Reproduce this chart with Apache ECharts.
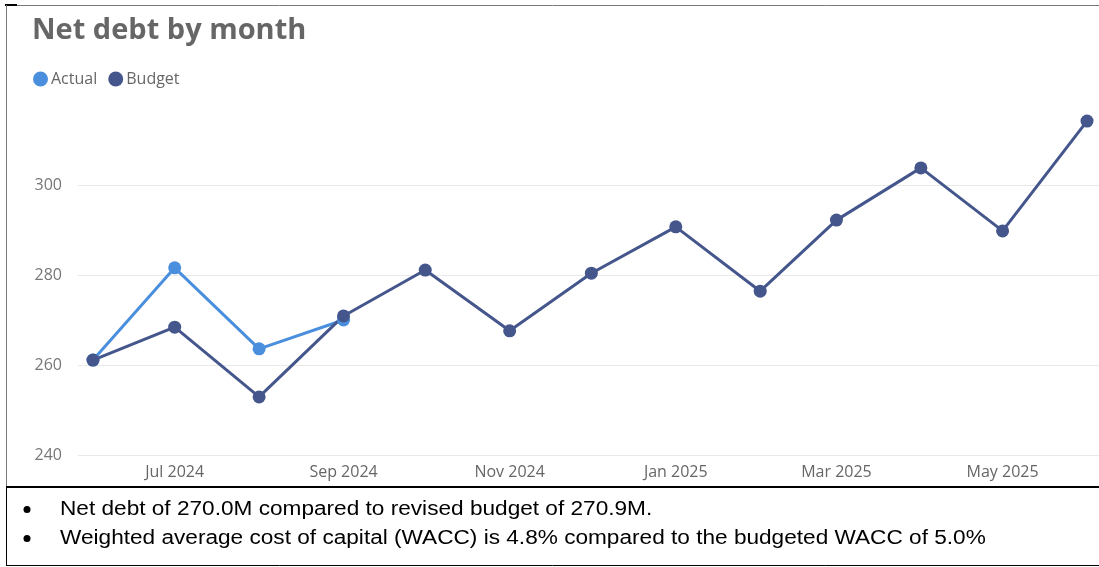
<!DOCTYPE html>
<html>
<head>
<meta charset="utf-8">
<script src="https://cdn.jsdelivr.net/npm/echarts@6/dist/echarts.min.js"></script>
<style>
  html, body { margin: 0; padding: 0; background: #ffffff; }
  #chart { width: 1099px; height: 567px; }
</style>
</head>
<body>
<div id="chart"></div>
<script>
// Month starts (year, month index) for each data point
const months = [
  [2024, 5], [2024, 6], [2024, 7], [2024, 8], [2024, 9], [2024, 10], [2024, 11],
  [2025, 0], [2025, 1], [2025, 2], [2025, 3], [2025, 4], [2025, 5]
];
// Net debt, millions
const actualValues = [261.1, 281.6, 263.6, 270.0];
const budgetValues = [261.1, 268.4, 252.9, 270.9, 281.1, 267.6, 280.4, 290.7, 276.4, 292.2, 303.8, 289.8, 314.2];
// Months that get an x-axis label
const tickMonths = [[2024, 6], [2024, 8], [2024, 10], [2025, 0], [2025, 2], [2025, 4]];
const monthNames = ['Jan', 'Feb', 'Mar', 'Apr', 'May', 'Jun', 'Jul', 'Aug', 'Sep', 'Oct', 'Nov', 'Dec'];
const notes = [
  'Net debt of 270.0M compared to revised budget of 270.9M.',
  'Weighted average cost of capital (WACC) is 4.8% compared to the budgeted WACC of 5.0%'
];

// Continuous date scale: x is a timestamp, so month spacing follows month length
const toTime = ym => new Date(ym[0], ym[1], 1).getTime();
const DAY = 86400000;
const xMin = toTime(months[0]) - 5.5 * DAY;
const xMax = toTime(months[months.length - 1]) + 4.4 * DAY;

const actualData = actualValues.map((v, i) => [toTime(months[i]), v]);
const budgetData = budgetValues.map((v, i) => [toTime(months[i]), v]);

const uiFont = '"Segoe UI", "Open Sans", "Noto Sans", sans-serif';
const noteFont = '"Liberation Sans", Arial, sans-serif';

const chart = echarts.init(document.getElementById('chart'), null, { renderer: 'canvas' });

const frame = [
  // top rule and small dark corner mark
  { type: 'line', shape: { x1: 6, y1: 5.5, x2: 1099, y2: 5.5 }, style: { stroke: '#7a7a7a', lineWidth: 1 } },
  { type: 'line', shape: { x1: 5, y1: 5, x2: 17, y2: 5 }, style: { stroke: '#000', lineWidth: 2 } },
  // left rule beside the chart
  { type: 'line', shape: { x1: 6.5, y1: 5, x2: 6.5, y2: 487 }, style: { stroke: '#7a7a7a', lineWidth: 1 } },
  // notes box
  { type: 'line', shape: { x1: 6, y1: 487, x2: 1099, y2: 487 }, style: { stroke: '#000', lineWidth: 2 } },
  { type: 'line', shape: { x1: 6.5, y1: 487, x2: 6.5, y2: 566 }, style: { stroke: '#000', lineWidth: 1 } },
  { type: 'line', shape: { x1: 6, y1: 565.5, x2: 1099, y2: 565.5 }, style: { stroke: '#000', lineWidth: 1 } }
];

const noteGraphics = [];
notes.forEach((t, i) => {
  const cy = 509.5 + i * 29;
  noteGraphics.push({ type: 'circle', shape: { cx: 27, cy: cy, r: 3.5 }, style: { fill: '#000' } });
  noteGraphics.push({
    type: 'text', x: 60, y: cy, scaleX: 1.16,
    style: { text: t, fill: '#000', font: '19.5px ' + noteFont, textVerticalAlign: 'middle' }
  });
});

chart.setOption({
  animation: false,
  backgroundColor: '#ffffff',
  title: {
    text: 'Net debt by month',
    left: 32, top: 16, padding: 0,
    textStyle: { fontFamily: uiFont, fontSize: 29, fontWeight: 'bold', color: '#666666' }
  },
  legend: {
    left: 33, top: 71, padding: 0,
    icon: 'circle',
    itemWidth: 15, itemHeight: 15, itemGap: 11,
    textStyle: { fontFamily: uiFont, fontSize: 16, color: '#666666', padding: [0, 0, 0, -2] },
    data: ['Actual', 'Budget']
  },
  grid: { left: 78, right: 0, top: 95, bottom: 112, containLabel: false },
  xAxis: {
    type: 'value',
    min: xMin, max: xMax,
    axisLine: { show: false },
    axisTick: { show: false },
    splitLine: { show: false },
    axisLabel: {
      customValues: tickMonths.map(toTime),
      margin: 9,
      fontFamily: uiFont, fontSize: 16, color: '#666666',
      formatter: v => { const d = new Date(v); return monthNames[d.getMonth()] + ' ' + d.getFullYear(); }
    }
  },
  yAxis: {
    type: 'value',
    min: 240, max: 320, interval: 20,
    axisLine: { show: false },
    axisTick: { show: false },
    axisLabel: { margin: 16, fontFamily: uiFont, fontSize: 16, color: '#777777', showMaxLabel: false },
    splitLine: { showMaxLine: false, lineStyle: { color: '#e9e9e9', width: 1 } }
  },
  series: [
    {
      name: 'Actual', type: 'line', data: actualData,
      color: '#4a8fdd',
      lineStyle: { width: 3 },
      symbol: 'circle', symbolSize: 13,
      itemStyle: { color: '#4a8fdd' }
    },
    {
      name: 'Budget', type: 'line', data: budgetData,
      color: '#44568b',
      lineStyle: { width: 3 },
      symbol: 'circle', symbolSize: 13,
      itemStyle: { color: '#44568b' }
    }
  ],
  graphic: frame.concat(noteGraphics)
});
</script>
</body>
</html>
